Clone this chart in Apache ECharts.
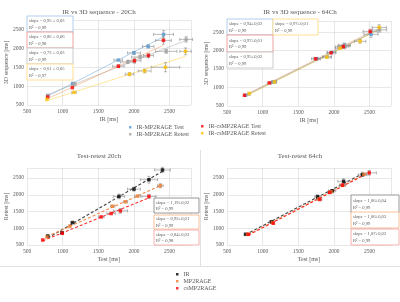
<!DOCTYPE html>
<html><head><meta charset="utf-8">
<script src="https://cdn.jsdelivr.net/npm/echarts@6/dist/echarts.min.js"></script>
<style>html,body{margin:0;padding:0;background:#fff}#c{width:400px;height:302px}</style>
</head><body><div id="c"></div>
<script>
// ---------- DATA ----------
// Panel A: IR vs 3D sequence - 20Ch
const a_mpTest_x   = [790, 1140, 1780, 2000, 2200, 2415];
const a_mpTest_y   = [750, 1070, 1690, 1880, 2050, 2370];
const a_mpTest_ex  = [20, 20, 60, 90, 80, 140];
const a_mpTest_ey  = [20, 20, 30, 40, 40, 100];
const a_mpRetest_x = [790, 1160, 1913, 2086, 2452, 2732];
const a_mpRetest_y = [750, 1060, 1640, 1770, 1920, 2236];
const a_mpRetest_ex= [20, 30, 100, 120, 150, 90];
const a_mpRetest_ey= [20, 40, 40, 50, 50, 70];
const a_csTest_x   = [790, 1136, 1782, 2007, 2203, 2414];
const a_csTest_y   = [710, 960, 1526, 1670, 1810, 2210];
const a_csTest_ex  = [20, 20, 80, 90, 70, 110];
const a_csTest_ey  = [20, 30, 40, 60, 50, 100];
const a_csRetest_x = [780, 1160, 1937, 2150, 2442, 2723];
const a_csRetest_y = [650, 834, 1315, 1401, 1500, 1920];
const a_csRetest_ex= [20, 30, 60, 90, 200, 80];
const a_csRetest_ey= [20, 30, 40, 50, 120, 90];
const a_boxes = [
  ['slope = 0,95 ± 0,03', 'R² = 0,99'],
  ['slope = 0,86 ± 0,06', 'R² = 0,98'],
  ['slope = 0,73 ± 0,03', 'R² = 0,99'],
  ['slope = 0,61 ± 0,05', 'R² = 0,97']
];
// Panel B: IR vs 3D sequence - 64Ch
const b_mpTest_x   = [760, 1150, 1760, 1970, 2145, 2520];
const b_mpTest_y   = [790, 1150, 1780, 1950, 2140, 2440];
const b_mpTest_ex  = [20, 30, 50, 60, 80, 100];
const b_mpTest_ey  = [20, 30, 30, 40, 60, 80];
const b_mpRetest_x = [805, 1165, 1905, 2100, 2150, 2640];
const b_mpRetest_y = [820, 1160, 1830, 2100, 2140, 2560];
const b_mpRetest_ex= [20, 30, 60, 80, 80, 100];
const b_mpRetest_ey= [20, 30, 30, 40, 50, 60];
const b_csTest_x   = [745, 1095, 1745, 1960, 2130, 2508];
const b_csTest_y   = [790, 1125, 1778, 1940, 2108, 2518];
const b_csTest_ex  = [20, 30, 60, 60, 80, 100];
const b_csTest_ey  = [20, 30, 30, 40, 50, 60];
const b_csRetest_x = [813, 1165, 1900, 2087, 2367, 2634];
const b_csRetest_y = [840, 1150, 1822, 2064, 2250, 2628];
const b_csRetest_ex= [20, 30, 60, 70, 80, 100];
const b_csRetest_ey= [20, 30, 30, 40, 50, 70];
const b_boxes = [
  ['slope = 0,94±0,02', 'R² = 0,99'],
  ['slope = 0,97±0,01', 'R² = 0,99'],
  ['slope = 0,95±0,02', 'R² = 0,99'],
  ['slope = 0,97±0,01', 'R² = 0,99']
];
// Panel C: Test-retest 20ch
const c_ir_x  = [790, 990, 1140, 1790, 2000, 2210, 2400];
const c_ir_y  = [770, 865, 1170, 1950, 2170, 2450, 2740];
const c_ir_ex = [20, 20, 30, 80, 90, 120, 110];
const c_ir_ey = [20, 20, 30, 70, 60, 100, 80];
const c_mp_x  = [780, 1100, 1700, 1880, 2050, 2370];
const c_mp_y  = [740, 1060, 1660, 1790, 1960, 2270];
const c_mp_ex = [15, 20, 30, 30, 40, 40];
const c_mp_ey = [15, 20, 30, 30, 40, 60];
const c_cs_x  = [720, 995, 1540, 1680, 1810, 2210];
const c_cs_y  = [650, 850, 1340, 1440, 1520, 1950];
const c_cs_ex = [15, 20, 40, 60, 100, 100];
const c_cs_ey = [15, 30, 30, 40, 70, 60];
const c_boxes = [
  ['slope = 1,19±0,02', 'R² = 0,99'],
  ['slope = 0,92±0,01', 'R² = 0,99'],
  ['slope = 0,84±0,03', 'R² = 0,98']
];
// Panel D: Test-retest 64ch
const d_ir_x  = [760, 1125, 1770, 1975, 2135, 2400];
const d_ir_y  = [820, 1195, 1940, 2120, 2400, 2600];
const d_ir_ex = [20, 30, 40, 50, 80, 60];
const d_ir_ey = [20, 30, 60, 40, 80, 50];
const d_mp_x  = [790, 1140, 1790, 1960, 2120, 2420];
const d_mp_y  = [820, 1170, 1880, 2090, 2280, 2610];
const d_mp_ex = [15, 20, 30, 30, 40, 40];
const d_mp_ey = [15, 20, 30, 30, 40, 40];
const d_cs_x  = [800, 1150, 1800, 1940, 2120, 2495];
const d_cs_y  = [820, 1150, 1860, 2070, 2290, 2655];
const d_cs_ex = [15, 20, 30, 30, 40, 100];
const d_cs_ey = [15, 20, 40, 30, 40, 70];
const d_boxes = [
  ['slope = 1,06±0,04', 'R² = 0,99'],
  ['slope = 1,06±0,02', 'R² = 0,99'],
  ['slope = 1,07±0,02', 'R² = 0,99']
];
const titles = ['IR vs 3D sequence - 20Ch', 'IR vs 3D sequence - 64Ch', 'Test-retest 20ch', 'Test-retest 64ch'];

// ---------- BUILD ----------
const FF = '"Liberation Serif", "DejaVu Serif", serif';
const TXT = '#595959';
const series = [];
function pts(xs, ys){ return xs.map((x,i)=>[x, ys[i]]); }
function fit(xs, ys){
  const n=xs.length; let sx=0,sy=0,sxx=0,sxy=0;
  for(let i=0;i<n;i++){sx+=xs[i];sy+=ys[i];sxx+=xs[i]*xs[i];sxy+=xs[i]*ys[i];}
  const m=(n*sxy-sx*sy)/(n*sxx-sx*sx), b=(sy-m*sx)/n;
  const x0=Math.min(...xs), x1=Math.max(...xs);
  return [[x0, m*x0+b],[x1, m*x1+b]];
}
function errRender(params, api){
  const x=api.value(0), y=api.value(1), ex=api.value(2), ey=api.value(3);
  const c=api.coord([x,y]);
  const l=api.coord([x-ex,y])[0], r=api.coord([x+ex,y])[0];
  const t=api.coord([x,y+ey])[1], b=api.coord([x,y-ey])[1];
  const st={stroke:'#8c8c8c', lineWidth:0.6};
  const cap=1.6, ch=[];
  if(r-l>3){
    ch.push({type:'line',shape:{x1:l,y1:c[1],x2:r,y2:c[1]},style:st});
    ch.push({type:'line',shape:{x1:l,y1:c[1]-cap,x2:l,y2:c[1]+cap},style:st});
    ch.push({type:'line',shape:{x1:r,y1:c[1]-cap,x2:r,y2:c[1]+cap},style:st});
  }
  if(b-t>3){
    ch.push({type:'line',shape:{x1:c[0],y1:t,x2:c[0],y2:b},style:st});
    ch.push({type:'line',shape:{x1:c[0]-cap,y1:t,x2:c[0]+cap,y2:t},style:st});
    ch.push({type:'line',shape:{x1:c[0]-cap,y1:b,x2:c[0]+cap,y2:b},style:st});
  }
  return {type:'group', children:ch};
}
function addSeries(gi, name, xs, ys, exs, eys, color, lineColor, dashed){
  series.push({type:'line', xAxisIndex:gi, yAxisIndex:gi, data:fit(xs,ys), showSymbol:false, silent:true,
    lineStyle:{color:lineColor, width:dashed?1.1:0.9, type:dashed?[3,2]:'solid'}, z:1});
  series.push({type:'custom', xAxisIndex:gi, yAxisIndex:gi, renderItem:errRender, silent:true,
    data:xs.map((x,i)=>[x, ys[i], exs[i], eys[i]]), encode:{x:0,y:1}, z:2});
  series.push({type:'scatter', name, xAxisIndex:gi, yAxisIndex:gi, data:pts(xs,ys), symbol:'rect', symbolSize:3.5,
    itemStyle:{color}, z:3});
}
addSeries(0,'IR-MP2RAGE Test',a_mpTest_x,a_mpTest_y,a_mpTest_ex,a_mpTest_ey,'#5b9bd5','rgba(91,155,213,0.55)');
addSeries(0,'IR-MP2RAGE Retest',a_mpRetest_x,a_mpRetest_y,a_mpRetest_ex,a_mpRetest_ey,'#a5a5a5','rgba(165,165,165,0.55)');
addSeries(0,'IR-csMP2RAGE Test',a_csTest_x,a_csTest_y,a_csTest_ex,a_csTest_ey,'#ff0000','rgba(237,125,49,0.45)');
addSeries(0,'IR-csMP2RAGE Retest',a_csRetest_x,a_csRetest_y,a_csRetest_ex,a_csRetest_ey,'#ffc000','rgba(255,192,0,0.45)');
addSeries(1,'B-MP Test',b_mpTest_x,b_mpTest_y,b_mpTest_ex,b_mpTest_ey,'#5b9bd5','rgba(91,155,213,0.5)');
addSeries(1,'B-MP Retest',b_mpRetest_x,b_mpRetest_y,b_mpRetest_ex,b_mpRetest_ey,'#a5a5a5','rgba(165,165,165,0.5)');
addSeries(1,'B-cs Test',b_csTest_x,b_csTest_y,b_csTest_ex,b_csTest_ey,'#ff0000','rgba(237,125,49,0.4)');
addSeries(1,'B-cs Retest',b_csRetest_x,b_csRetest_y,b_csRetest_ex,b_csRetest_ey,'#ffc000','rgba(255,192,0,0.45)');
addSeries(2,'IR',c_ir_x,c_ir_y,c_ir_ex,c_ir_ey,'#000000','#404040',true);
addSeries(2,'MP2RAGE',c_mp_x,c_mp_y,c_mp_ex,c_mp_ey,'#ed7d31','#f08a4b',true);
addSeries(2,'csMP2RAGE',c_cs_x,c_cs_y,c_cs_ex,c_cs_ey,'#ff0000','#ff3030',true);
addSeries(3,'D-IR',d_ir_x,d_ir_y,d_ir_ex,d_ir_ey,'#000000','#404040',true);
addSeries(3,'D-MP',d_mp_x,d_mp_y,d_mp_ex,d_mp_ey,'#ed7d31','#f08a4b',true);
addSeries(3,'D-cs',d_cs_x,d_cs_y,d_cs_ex,d_cs_ey,'#ff0000','#ff3030',true);

const grids = [
  {left:27, top:20, width:164, height:85},
  {left:227, top:21, width:164, height:85},
  {left:27, top:168, width:164, height:77},
  {left:227, top:168, width:164, height:77}
];
const yMax = [2750, 2800, 2800, 2800];
const xNames = ['IR [ms]','IR [ms]','Test [ms]','Test [ms]'];
const yNames = ['3D sequence [ms]','3D sequence [ms]','Retest [ms]','Retest [ms]'];
const lab = {fontSize:5.5, color:TXT, fontFamily:FF};
const fmt = v => (v % 500 === 0 ? String(v) : '');
const xAxis = grids.map((g,i)=>({type:'value', gridIndex:i, min:500, max:2800, interval:500,
  name:xNames[i], nameLocation:'middle', nameGap:11, nameTextStyle:{fontSize:6, color:TXT, fontFamily:FF},
  axisLine:{show:false}, axisTick:{show:false}, axisLabel:Object.assign({margin:4, formatter:fmt}, lab),
  splitLine:{lineStyle:{color:'#d9d9d9', width:0.6}}}));
const yAxis = grids.map((g,i)=>({type:'value', gridIndex:i, min:500, max:yMax[i], interval:500,
  name:yNames[i], nameLocation:'middle', nameGap:17, nameRotate:90, nameTextStyle:{fontSize:6, color:TXT, fontFamily:FF},
  axisLine:{show:false}, axisTick:{show:false}, axisLabel:Object.assign({margin:3, formatter:fmt}, lab),
  splitLine:{lineStyle:{color:'#d9d9d9', width:0.6}}}));

const title = titles.map((t,i)=>({text:t, left:(i%2?300:99), top:(i<2?9:153), textAlign:'center', padding:0,
  textStyle:{fontSize:7, fontWeight:'normal', color:TXT, fontFamily:FF}}));

const graphic = [];
function box(x, y, w, h, color, lines){
  graphic.push({type:'rect', shape:{x, y, width:w, height:h}, style:{fill:'#fff', stroke:color, lineWidth:0.8}, z:50});
  graphic.push({type:'text', x:x+2, y:y+h/2-5.5, style:{text:lines[0], fontSize:4.6, fill:TXT, fontFamily:FF}, z:51});
  graphic.push({type:'text', x:x+2, y:y+h/2+0.8, style:{text:lines[1], fontSize:4.6, fill:TXT, fontFamily:FF}, z:51});
}
box(27,16,46,16,'#9dc3e6',a_boxes[0]);
box(27,32,46,16,'#e88a8a',a_boxes[1]);
box(27,48,46,16,'#bfbfbf',a_boxes[2]);
box(27,64,46,16,'#ffd97a',a_boxes[3]);
box(227,19,46,16,'#9dc3e6',b_boxes[0]);
box(227,35,46,17,'#e88a8a',b_boxes[1]);
box(227,52,46,16,'#bfbfbf',b_boxes[2]);
box(273,19,45,16,'#ffd97a',b_boxes[3]);
box(154,198,45,15,'#7f7f7f',c_boxes[0]);
box(154,215,45,14,'#f4b183',c_boxes[1]);
box(154,230,45,15,'#f4a0a0',c_boxes[2]);
box(351,195,48,18,'#7f7f7f',d_boxes[0]);
box(351,212,48,16,'#f4b183',d_boxes[1]);
box(351,229,48,16,'#f4a0a0',d_boxes[2]);
// panel separators
graphic.push({type:'line', shape:{x1:200.5,y1:150,x2:200.5,y2:266}, style:{stroke:'#d9d9d9', lineWidth:0.8}, z:0});
graphic.push({type:'line', shape:{x1:0,y1:266.5,x2:400,y2:266.5}, style:{stroke:'#d9d9d9', lineWidth:0.8}, z:0});

const lg = (data, left, top) => ({data, left, top, orient:'vertical', icon:'rect', itemWidth:2.5, itemHeight:2.5,
  itemGap:0.5, padding:0, textStyle:{fontSize:6, color:TXT, fontFamily:FF, lineHeight:6.5}, selectedMode:false});
const legend = [
  lg(['IR-MP2RAGE Test','IR-MP2RAGE Retest'], 129, 124),
  lg(['IR-csMP2RAGE Test','IR-csMP2RAGE Retest'], 201, 123),
  lg(['IR','MP2RAGE','csMP2RAGE'], 176, 271)
];

const chart = echarts.init(document.getElementById('c'), null, {renderer:'canvas'});
chart.setOption({animation:false, backgroundColor:'#fff', title, legend, grid:grids, xAxis, yAxis, series, graphic});
</script>
</body></html>
